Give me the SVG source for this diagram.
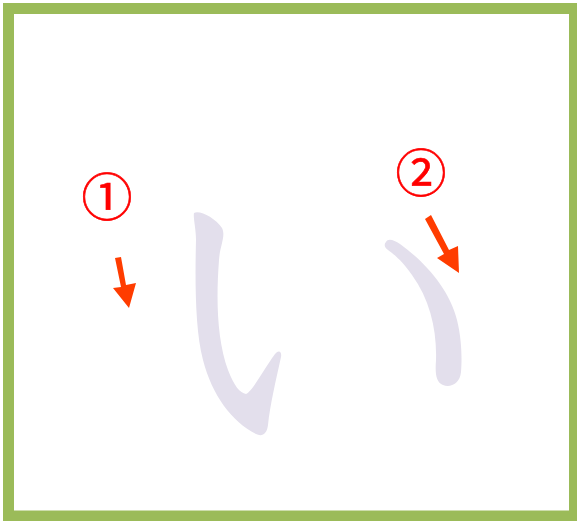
<svg xmlns="http://www.w3.org/2000/svg" width="577" height="521" viewBox="0 0 577 521">
<style>
.stroke{fill:#e3dfec;}
.num{fill:#ff0000;stroke:#ff0000;stroke-width:0.6;font-family:"DejaVu Serif","Noto Sans CJK JP",serif;font-size:51px;text-anchor:middle;}
.arrow{fill:#ff3c00;}
</style>
<rect x="0" y="0" width="577" height="521" fill="#ffffff"/>
<rect x="8.5" y="8.5" width="566" height="507.5" fill="none" stroke="#9bbb59" stroke-width="11"/>
<g id="stroke1">
<path class="stroke" d="M194,213 C200,210 215,218 222,228 C226,236 220,245 219,260 C216,300 217,340 228,370 C234,386 240,393 246,394 C252,392 262,372 275,354 C279,349 282,352 281,357 C276,380 270,405 268,425 C267,434 262,437 256,434 C232,422 212,395 203,360 C195,330 195,280 196,240 C196,228 193,218 194,213 Z"/>
</g>
<g id="stroke2">
<path class="stroke" d="M386,242 C388,238 394,240 400,244 C425,262 450,290 457,320 C462,340 462,360 461,372 C460,384 450,388 443,385 C436,382 435,374 436,360 C437,330 430,300 412,275 C403,262 395,255 388,250 C384,247 384,244 386,242 Z"/>
</g>
<g id="label1">
<text class="num" x="107" y="216">①</text>
</g>
<g id="label2">
<text class="num" x="421" y="192">②</text>
</g>
<g id="connectors">
<g id="arrow1">
<polygon class="arrow" points="115,258 121,257 126,285 136,283 129,308 113,288 121,287"/>
</g>
<g id="arrow2">
<polygon class="arrow" points="425,219 431,215 449,250 458,246 459,273 437,258 444,254"/>
</g>
</g>
</svg>
